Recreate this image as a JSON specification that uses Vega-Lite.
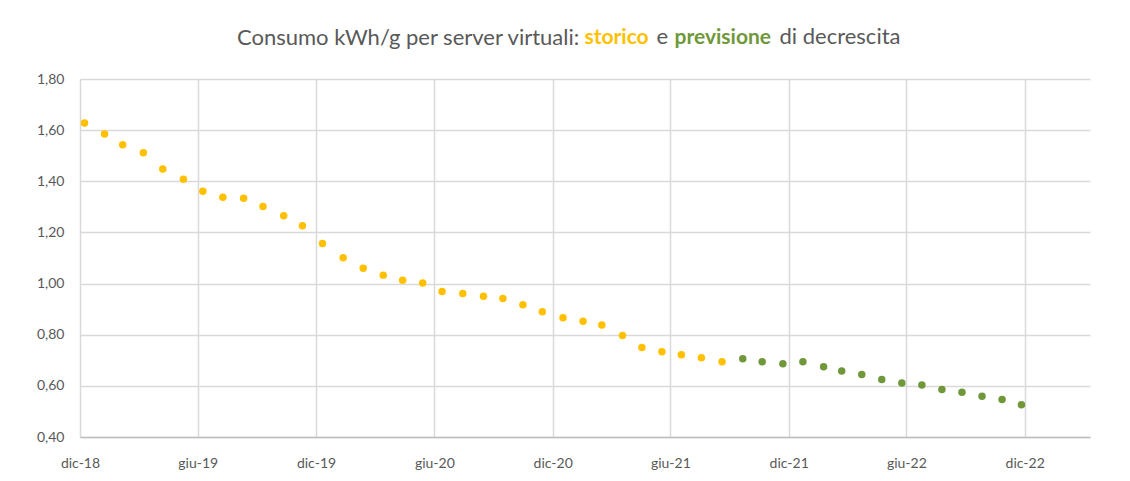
{
  "$schema": "https://vega.github.io/schema/vega-lite/v6.json",
  "autosize": "none",
  "width": 1010,
  "height": 358,
  "padding": {"left": 80, "top": 79, "right": 40, "bottom": 44},
  "background": "white",
  "config": {
    "font": "Lato",
    "view": {"stroke": null},
    "locale": {
      "number": {"decimal": ",", "thousands": ".", "grouping": [3], "currency": ["€", ""]},
      "time": {
        "dateTime": "%A %e %B %Y, %X",
        "date": "%d/%m/%Y",
        "time": "%H:%M:%S",
        "periods": ["AM", "PM"],
        "days": ["domenica", "lunedì", "martedì", "mercoledì", "giovedì", "venerdì", "sabato"],
        "shortDays": ["dom", "lun", "mar", "mer", "gio", "ven", "sab"],
        "months": ["gennaio", "febbraio", "marzo", "aprile", "maggio", "giugno", "luglio", "agosto", "settembre", "ottobre", "novembre", "dicembre"],
        "shortMonths": ["gen", "feb", "mar", "apr", "mag", "giu", "lug", "ago", "set", "ott", "nov", "dic"]
      }
    },
    "axis": {
      "titleFont": "Lato",
      "titleFontSize": 22,
      "titleFontWeight": "normal",
      "titleAngle": 0,
      "titleAlign": "left",
      "titleBaseline": "alphabetic",
      "titleAnchor": null
    }
  },
  "title": {
    "text": "Consumo kWh/g per server virtuali:",
    "font": "Lato",
    "fontSize": 22,
    "fontWeight": "normal",
    "color": "#595959",
    "anchor": "start",
    "frame": "group",
    "baseline": "alphabetic",
    "dx": 157,
    "offset": -41.6
  },
  "data": {
    "values": [
      {"data": "2018-12-08", "consumo": 1.628, "serie": "storico"},
      {"data": "2019-01-08", "consumo": 1.585, "serie": "storico"},
      {"data": "2019-02-05", "consumo": 1.543, "serie": "storico"},
      {"data": "2019-03-09", "consumo": 1.512, "serie": "storico"},
      {"data": "2019-04-08", "consumo": 1.448, "serie": "storico"},
      {"data": "2019-05-10", "consumo": 1.408, "serie": "storico"},
      {"data": "2019-06-09", "consumo": 1.361, "serie": "storico"},
      {"data": "2019-07-10", "consumo": 1.338, "serie": "storico"},
      {"data": "2019-08-11", "consumo": 1.334, "serie": "storico"},
      {"data": "2019-09-10", "consumo": 1.301, "serie": "storico"},
      {"data": "2019-10-12", "consumo": 1.265, "serie": "storico"},
      {"data": "2019-11-10", "consumo": 1.226, "serie": "storico"},
      {"data": "2019-12-11", "consumo": 1.157, "serie": "storico"},
      {"data": "2020-01-12", "consumo": 1.101, "serie": "storico"},
      {"data": "2020-02-12", "consumo": 1.060, "serie": "storico"},
      {"data": "2020-03-14", "consumo": 1.033, "serie": "storico"},
      {"data": "2020-04-13", "consumo": 1.013, "serie": "storico"},
      {"data": "2020-05-14", "consumo": 1.002, "serie": "storico"},
      {"data": "2020-06-13", "consumo": 0.969, "serie": "storico"},
      {"data": "2020-07-15", "consumo": 0.961, "serie": "storico"},
      {"data": "2020-08-16", "consumo": 0.950, "serie": "storico"},
      {"data": "2020-09-15", "consumo": 0.942, "serie": "storico"},
      {"data": "2020-10-16", "consumo": 0.917, "serie": "storico"},
      {"data": "2020-11-15", "consumo": 0.890, "serie": "storico"},
      {"data": "2020-12-17", "consumo": 0.866, "serie": "storico"},
      {"data": "2021-01-17", "consumo": 0.853, "serie": "storico"},
      {"data": "2021-02-15", "consumo": 0.838, "serie": "storico"},
      {"data": "2021-03-19", "consumo": 0.797, "serie": "storico"},
      {"data": "2021-04-18", "consumo": 0.750, "serie": "storico"},
      {"data": "2021-05-19", "consumo": 0.733, "serie": "storico"},
      {"data": "2021-06-18", "consumo": 0.722, "serie": "storico"},
      {"data": "2021-07-19", "consumo": 0.710, "serie": "storico"},
      {"data": "2021-08-20", "consumo": 0.694, "serie": "storico"},
      {"data": "2021-09-21", "consumo": 0.706, "serie": "previsione"},
      {"data": "2021-10-21", "consumo": 0.694, "serie": "previsione"},
      {"data": "2021-11-22", "consumo": 0.686, "serie": "previsione"},
      {"data": "2021-12-23", "consumo": 0.694, "serie": "previsione"},
      {"data": "2022-01-24", "consumo": 0.675, "serie": "previsione"},
      {"data": "2022-02-21", "consumo": 0.658, "serie": "previsione"},
      {"data": "2022-03-24", "consumo": 0.644, "serie": "previsione"},
      {"data": "2022-04-24", "consumo": 0.625, "serie": "previsione"},
      {"data": "2022-05-25", "consumo": 0.611, "serie": "previsione"},
      {"data": "2022-06-25", "consumo": 0.603, "serie": "previsione"},
      {"data": "2022-07-26", "consumo": 0.586, "serie": "previsione"},
      {"data": "2022-08-26", "consumo": 0.575, "serie": "previsione"},
      {"data": "2022-09-26", "consumo": 0.559, "serie": "previsione"},
      {"data": "2022-10-27", "consumo": 0.547, "serie": "previsione"},
      {"data": "2022-11-26", "consumo": 0.526, "serie": "previsione"}
    ]
  },
  "resolve": {"axis": {"x": "independent", "y": "independent"}},
  "layer": [
    {
      "transform": [{"filter": "datum.serie === 'storico'"}],
      "mark": {"type": "circle", "size": 56, "opacity": 1, "color": "#FFC000"},
      "encoding": {
        "x": {
          "field": "data",
          "type": "temporal",
          "scale": {
            "type": "utc",
            "domain": [
              {"year": 2018, "month": 12, "date": 1, "utc": true},
              {"year": 2023, "month": 3, "date": 12, "utc": true}
            ]
          },
          "axis": {
            "orient": "bottom",
            "title": "di decrescita",
            "titleColor": "#595959",
            "titleX": 699,
            "titleY": -393.3,
            "format": "%b-%y",
            "values": [
              {"year": 2018, "month": 12, "date": 1, "utc": true},
              {"year": 2019, "month": 6, "date": 1, "utc": true},
              {"year": 2019, "month": 12, "date": 1, "utc": true},
              {"year": 2020, "month": 6, "date": 1, "utc": true},
              {"year": 2020, "month": 12, "date": 1, "utc": true},
              {"year": 2021, "month": 6, "date": 1, "utc": true},
              {"year": 2021, "month": 12, "date": 1, "utc": true},
              {"year": 2022, "month": 6, "date": 1, "utc": true},
              {"year": 2022, "month": 12, "date": 1, "utc": true}
            ],
            "labelFont": "Lato",
            "labelFontSize": 14,
            "labelColor": "#595959",
            "labelPadding": 19,
            "ticks": false,
            "domain": true,
            "domainColor": "#bfbfbf",
            "domainWidth": 1.5,
            "grid": true,
            "gridColor": "#d9d9d9",
            "gridWidth": 1.5,
            "labelFlush": false,
            "labelOverlap": false
          }
        },
        "y": {
          "field": "consumo",
          "type": "quantitative",
          "scale": {"domain": [0.4, 1.8], "nice": false, "zero": false},
          "axis": {
            "orient": "left",
            "title": "e",
            "titleColor": "#595959",
            "titleX": 576,
            "titleY": -35.3,
            "format": ".2f",
            "values": [0.4, 0.6, 0.8, 1.0, 1.2, 1.4, 1.6, 1.8],
            "labelFont": "Lato",
            "labelFontSize": 14,
            "labelColor": "#595959",
            "labelPadding": 16,
            "ticks": false,
            "domain": false,
            "grid": true,
            "gridColor": "#d9d9d9",
            "gridWidth": 1.5
          }
        }
      }
    },
    {
      "transform": [{"filter": "datum.serie === 'previsione'"}],
      "mark": {"type": "circle", "size": 56, "opacity": 1, "color": "#70983A"},
      "encoding": {
        "x": {
          "field": "data",
          "type": "temporal",
          "axis": {
            "orient": "top",
            "title": "storico",
            "titleColor": "#FFC000",
            "titleFontWeight": "bold",
            "titleFontSize": 21,
            "titleX": 504,
            "titleY": -35.3,
            "labels": false,
            "ticks": false,
            "domain": false,
            "grid": false
          }
        },
        "y": {
          "field": "consumo",
          "type": "quantitative",
          "axis": {
            "orient": "right",
            "title": "previsione",
            "titleColor": "#70983A",
            "titleFontWeight": "bold",
            "titleFontSize": 21,
            "titleX": -416,
            "titleY": -35.3,
            "labels": false,
            "ticks": false,
            "domain": false,
            "grid": false
          }
        }
      }
    }
  ]
}
